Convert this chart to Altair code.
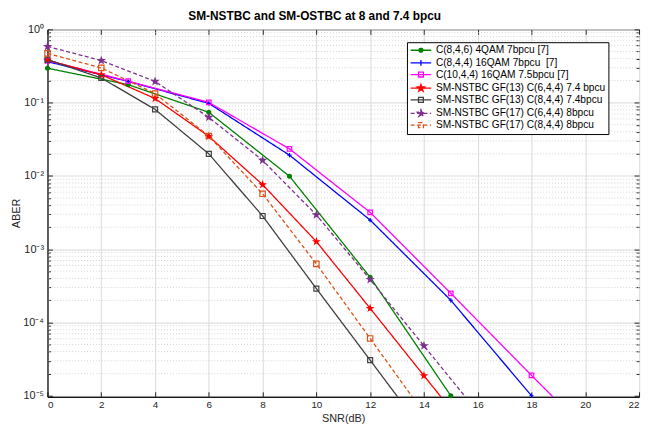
import math
import altair as alt
import pandas as pd

FONT = "Liberation Sans"
W, H = 599, 372

series_names = [
    "C(8,4,6) 4QAM 7bpcu [7]",
    "C(8,4,4) 16QAM 7bpcu\u00a0 [7]",
    "C(10,4,4) 16QAM 7.5bpcu [7]",
    "SM-NSTBC GF(13) C(6,4,4) 7.4 bpcu",
    "SM-NSTBC GF(13) C(8,4,4) 7.4bpcu",
    "SM-NSTBC GF(17) C(6,4,4) 8bpcu",
    "SM-NSTBC GF(17) C(8,4,4) 8bpcu",
]

# SNR (dB) positions of each curve
snr_green = [0, 3, 6, 9, 12, 15]
snr_blue = [0, 3, 6, 9, 12, 15, 18]
snr_magenta = [0, 3, 6, 9, 12, 15, 18, 21]
snr_red = [0, 2, 4, 6, 8, 10, 12, 14, 16]
snr_gray = [0, 2, 4, 6, 8, 10, 12, 14]
snr_purple = [0, 2, 4, 6, 8, 10, 12, 14, 16]
snr_orange = [0, 2, 4, 6, 8, 10, 12, 14]

# ABER values
aber_green = [0.295, 0.176, 0.0738, 0.0099, 4.14e-4, 1.0e-5]
aber_blue = [0.363, 0.195, 0.0977, 0.0192, 2.5e-3, 2.01e-4, 1.0e-5]
aber_magenta = [0.375, 0.197, 0.1007, 0.0234, 3.18e-3, 2.5e-4, 1.9e-5, 1.5e-6]
aber_red = [0.38, 0.24, 0.114, 0.0347, 7.6e-3, 1.27e-3, 1.56e-4, 1.88e-5, 2.3e-6]
aber_gray = [0.387, 0.217, 0.081, 0.020, 2.84e-3, 2.9e-4, 3.06e-5, 3.2e-6]
aber_purple = [0.585, 0.375, 0.195, 0.063, 0.0163, 2.94e-3, 3.86e-4, 4.8e-5, 6.0e-6]
aber_orange = [0.47, 0.298, 0.133, 0.035, 5.7e-3, 6.3e-4, 6.05e-5, 5.8e-6]

x_ticks = [0, 2, 4, 6, 8, 10, 12, 14, 16, 18, 20, 22]
y_ticks = [1e-5, 1e-4, 1e-3, 1e-2, 1e-1, 1]

colors = ["#008000", "#0000ff", "#ff00ff", "#ff0000", "#404040", "#7e2f8e", "#d95319"]
dashes = [[1, 0], [1, 0], [1, 0], [1, 0], [1, 0], [4, 2.5], [4, 2.5]]
fills = ["#008000", "#0000ff", "transparent", "#ff0000", "transparent", "#7e2f8e", "transparent"]


def star_path(R, r):
    pts = []
    for k in range(10):
        ang = math.radians(-90 + 36 * k)
        rad = R if k % 2 == 0 else r
        pts.append((rad * math.cos(ang), rad * math.sin(ang)))
    s = "M%.3f,%.3f" % pts[0]
    for p in pts[1:]:
        s += "L%.3f,%.3f" % p
    return s + "Z"


# plot markers (1 unit = sqrt(size)/2 px)
plot_star = star_path(1.2, 0.48)
shapes = ["circle", "M-1,0H1M0,-1V1", "square", plot_star, "square", plot_star, "square"]
sizes = [16, 30, 24, 36, 24, 36, 24]

snrs = [snr_green, snr_blue, snr_magenta, snr_red, snr_gray, snr_purple, snr_orange]
abers = [aber_green, aber_blue, aber_magenta, aber_red, aber_gray, aber_purple, aber_orange]
rows = []
for name, xs, ys in zip(series_names, snrs, abers):
    for xv, yv in zip(xs, ys):
        rows.append({"series": name, "snr": xv, "aber": yv})
df = pd.DataFrame(rows)

Y_MIN = 9.7e-6

# minor grid / tick positions (axis decoration)
minor = [m * 10.0 ** d for d in range(-5, 0) for m in range(2, 10)]
df_minor = pd.DataFrame({"aber": minor})

# ---- legend symbols: line + marker paths (1 unit = 4 px at symbolSize 64)
L = "M-2.6,0H2.6"
sq = "M-0.62,-0.62H0.62V0.62H-0.62Z"
leg_star = star_path(0.95, 0.38)
leg_paths = [
    L + "M0.5,0A0.5,0.5,0,1,1,-0.5,0A0.5,0.5,0,1,1,0.5,0Z",
    L + "M0,-0.75V0.75",
    L + sq,
    L + leg_star,
    L + sq,
    L + leg_star,
    L + sq,
]
leg_fills = ["#008000", "#0000ff", "white", "#ff0000", "white", "#7e2f8e", "white"]

legend = alt.Legend(
    title=None, orient="none", legendX=364, legendY=13,
    fillColor="white", strokeColor="black", padding=3, cornerRadius=0,
    labelFont=FONT, labelFontSize=10.3, labelColor="black", labelLimit=400,
    symbolSize=64, symbolStrokeWidth=1.3, symbolOffset=6, labelOffset=10,
    rowPadding=0.8,
)

xscale = alt.Scale(domain=[0, 22], nice=False, zero=False)
yscale = alt.Scale(type="log", domain=[Y_MIN, 1], nice=False)

label_expr = ("datum.value > 0.5 ? '10\u2070' : datum.value > 0.05 ? '10\u207b\u00b9' : "
              "datum.value > 0.005 ? '10\u207b\u00b2' : datum.value > 0.0005 ? '10\u207b\u00b3' : "
              "datum.value > 0.00005 ? '10\u207b\u2074' : '10\u207b\u2075'")

xaxis = alt.Axis(values=x_ticks, title="SNR(dB)", grid=True, ticks=False,
                 labelFontSize=10, titleFontSize=11, labelPadding=3, titlePadding=3,
                 domainColor="black")
yaxis = alt.Axis(values=y_ticks, title="ABER", grid=True, ticks=False, labelExpr=label_expr,
                 labelFontSize=11, titleFontSize=11, labelPadding=4, titlePadding=1,
                 domainColor="black")


def tick_axis(orient, offset, values, size):
    return alt.Axis(orient=orient, offset=offset, values=values, tickSize=size, ticks=True,
                    labels=False, domain=False, grid=False, title="", tickColor="#262626",
                    tickWidth=1)


X = alt.X("snr:Q", scale=xscale, axis=xaxis)
Y = alt.Y("aber:Q", scale=yscale, axis=yaxis)
Xn = alt.X("snr:Q", scale=xscale, axis=None)
Yn = alt.Y("aber:Q", scale=yscale, axis=None)

minor_grid = alt.Chart(df_minor).mark_rule(color="#c8c8c8", strokeWidth=0.8, strokeDash=[1, 2]).encode(
    y=Yn
)

lines = alt.Chart(df).mark_line(strokeWidth=1.3, clip=True).encode(
    x=X, y=Y,
    color=alt.Color("series:N", scale=alt.Scale(domain=series_names, range=colors), legend=None),
    strokeDash=alt.StrokeDash("series:N", scale=alt.Scale(domain=series_names, range=dashes), legend=None),
    order="snr:Q",
)

points = alt.Chart(df).transform_filter(
    alt.datum.aber >= Y_MIN
).mark_point(strokeWidth=1.2, opacity=1).encode(
    x=Xn, y=Yn,
    color=alt.Color("series:N", scale=alt.Scale(domain=series_names, range=colors), legend=None),
    fill=alt.Fill("series:N", scale=alt.Scale(domain=series_names, range=fills), legend=None),
    shape=alt.Shape("series:N", scale=alt.Scale(domain=series_names, range=shapes), legend=None),
    size=alt.Size("series:N", scale=alt.Scale(domain=series_names, range=sizes), legend=None),
)

# legend carrier: draws nothing, only provides the legend (line + marker symbols)
legend_layer = alt.Chart(df).transform_filter("false").mark_point(strokeWidth=1.3, opacity=1).encode(
    x=Xn, y=Yn,
    color=alt.Color("series:N", scale=alt.Scale(domain=series_names, range=colors), legend=legend),
    fill=alt.Fill("series:N", scale=alt.Scale(domain=series_names, range=leg_fills), legend=legend),
    shape=alt.Shape("series:N", scale=alt.Scale(domain=series_names, range=leg_paths), legend=legend),
    strokeDash=alt.StrokeDash("series:N", scale=alt.Scale(domain=series_names, range=dashes), legend=legend),
)

# inward-pointing box ticks (MATLAB style): empty layers that only carry axes
empty = alt.Chart(df).transform_filter("false").mark_point()
ticks_a = empty.encode(
    x=alt.X("snr:Q", scale=xscale, axis=tick_axis("bottom", -H, x_ticks, 5)),
    y=alt.Y("aber:Q", scale=yscale, axis=tick_axis("left", -W, y_ticks, 5)),
)
ticks_b = empty.encode(
    x=alt.X("snr:Q", scale=xscale, axis=tick_axis("top", -H, x_ticks, 5)),
    y=alt.Y("aber:Q", scale=yscale, axis=tick_axis("right", -W, y_ticks, 5)),
)
ticks_c = empty.encode(
    x=Xn, y=alt.Y("aber:Q", scale=yscale, axis=tick_axis("left", -W, minor, 3)),
)
ticks_d = empty.encode(
    x=Xn, y=alt.Y("aber:Q", scale=yscale, axis=tick_axis("right", -W, minor, 3)),
)

chart = alt.layer(minor_grid, lines, points, legend_layer, ticks_a, ticks_b, ticks_c, ticks_d).resolve_scale(
    color="independent", fill="independent", shape="independent", strokeDash="independent", size="independent"
).resolve_axis(x="independent", y="independent").properties(
    width=W, height=H,
    autosize=alt.AutoSizeParams(type="none"),
    padding={"left": 40, "top": 19, "right": 2, "bottom": 27},
    title=alt.TitleParams("SM-NSTBC and SM-OSTBC at 8 and 7.4 bpcu", font=FONT, fontSize=12,
                          fontWeight="bold", anchor="middle", dx=-29, dy=5, offset=5, color="black"),
).configure(font=FONT, background="white").configure_view(
    stroke="black", strokeWidth=1
).configure_axis(
    gridColor="#e0e0e0", gridWidth=1.2, labelColor="#262626", titleColor="#262626",
    labelFont=FONT, titleFont=FONT, titleFontWeight="normal"
)

chart.save("out.html", embed_options={"renderer": "svg", "actions": False})
